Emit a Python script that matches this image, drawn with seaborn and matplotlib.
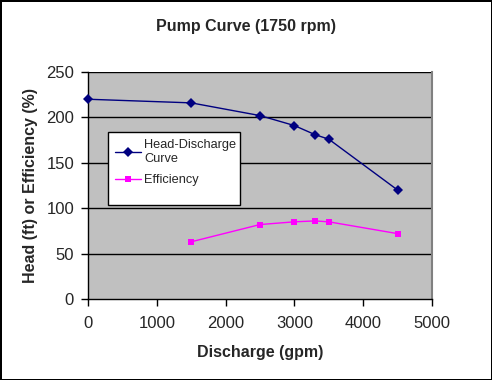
import matplotlib
matplotlib.use("Agg")
import matplotlib.pyplot as plt
from matplotlib.patches import Rectangle
import seaborn as sns
import pandas as pd

# data
head_q = [0, 1500, 2500, 3000, 3300, 3500, 4500]
head_ft = [220, 216, 202, 191, 181, 176, 120]
eff_q = [1500, 2500, 3000, 3300, 3500, 4500]
eff_pct = [63, 82, 85, 86, 85, 72]

head = pd.DataFrame({"q": head_q, "v": head_ft})
eff = pd.DataFrame({"q": eff_q, "v": eff_pct})

sns.set_theme(style="white")
plt.rcParams["font.family"] = ["Liberation Sans", "DejaVu Sans"]

fig = plt.figure(figsize=(4.92, 3.80), dpi=100)
fig.patch.set_facecolor("white")
fig.patch.set_edgecolor("black")
fig.patch.set_linewidth(2)
ax = fig.add_axes([88 / 492, 81 / 380, 344 / 492, 227 / 380])
ax.set_facecolor("#c0c0c0")

for y in [50, 100, 150, 200, 250]:
    ax.axhline(y, color="black", linewidth=1, zorder=1)

sns.lineplot(data=head, x="q", y="v", ax=ax, color="#000080", marker="D",
             markersize=5, markeredgewidth=0, linewidth=1,
             label="Head-Discharge\nCurve", zorder=3, clip_on=False)
sns.lineplot(data=eff, x="q", y="v", ax=ax, color="#ff00ff", marker="s",
             markersize=5, markeredgewidth=0, linewidth=1,
             label="Efficiency", zorder=3)

ax.set_xlim(0, 5000)
ax.set_ylim(0, 250)
ax.set_xticks(range(0, 5001, 1000))
ax.set_yticks(range(0, 251, 50))
ax.tick_params(axis="both", direction="out", length=5, width=1, color="black",
               labelsize=12, bottom=True, left=True)
ax.tick_params(axis="x", pad=7)
ax.tick_params(axis="y", pad=5)

ax.spines["top"].set_visible(False)
ax.spines["right"].set_color("#808080")
ax.spines["right"].set_linewidth(1.5)
for side in ["left", "bottom"]:
    ax.spines[side].set_color("black")
    ax.spines[side].set_linewidth(1)

ax.set_xlabel("Discharge (gpm)", fontsize=11.5, fontweight="bold", labelpad=10)
ax.set_ylabel("Head (ft) or Efficiency (%)", fontsize=11.5, fontweight="bold", labelpad=6)
fig.text(246 / 492, 1 - 26 / 380, "Pump Curve (1750 rpm)", ha="center", va="center",
         fontsize=11.5, fontweight="bold")

# Excel-style legend box (larger than its contents)
ax.add_patch(Rectangle((20 / 344, 94 / 227), 132 / 344, 73 / 227, transform=ax.transAxes,
                       facecolor="white", edgecolor="black", linewidth=1, zorder=4))
leg = ax.legend(loc="upper left", bbox_to_anchor=(20 / 344, (299 - 132) / 227),
                borderaxespad=0, frameon=False, fontsize=9.2, handlelength=2.0,
                borderpad=0.55, labelspacing=0.75, handletextpad=0.3)
leg.set_zorder(5)

fig.savefig("out.png", dpi=100)
